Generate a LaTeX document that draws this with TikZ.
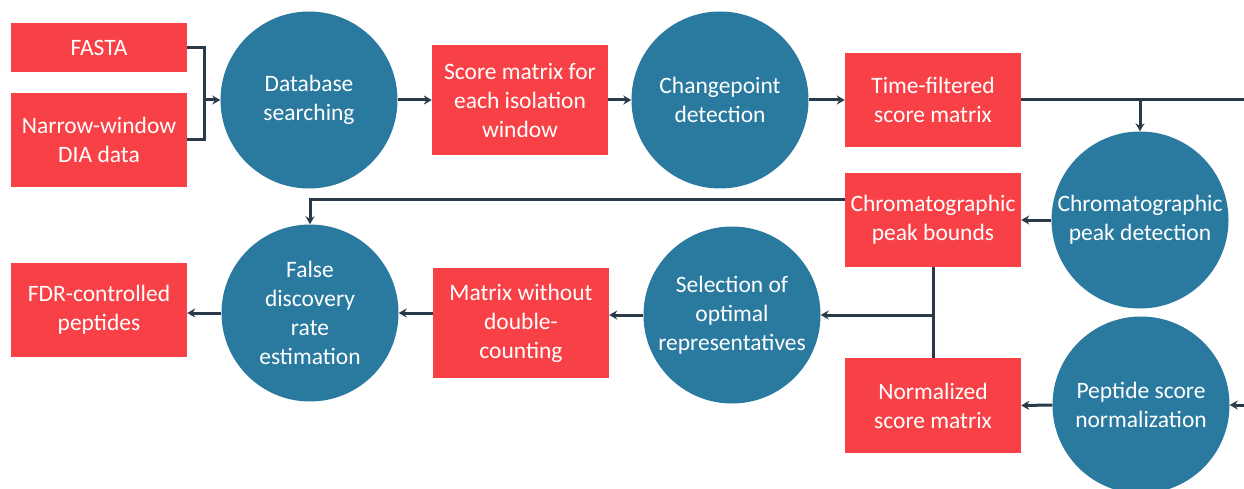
\documentclass[tikz,border=0pt]{standalone}
\usepackage{fontspec}
\setmainfont{Carlito}
\usetikzlibrary{arrows.meta}
\definecolor{boxred}{HTML}{F84146}
\definecolor{circblue}{HTML}{2A7AA0}
\definecolor{linec}{HTML}{2B3A4A}
\begin{document}
\begin{tikzpicture}[x=1pt,y=-1pt,
  txt/.style={text=white, align=center, font=\fontsize{23.5}{29}\selectfont, inner sep=0pt},
  box/.style={txt, fill=boxred, draw=none, minimum width=176pt},
  circ/.style={txt, circle, fill=circblue, draw=none, minimum size=177pt},
  conn/.style={draw=linec, line width=3pt},
  arr/.style={conn, -{Stealth[length=8pt,width=9pt]}}]
\useasboundingbox (0,0) rectangle (1244,489);
\clip (0,0) rectangle (1244,489);
% boxes
\node[box, minimum height=49pt] (fasta) at (99,47.5) {FASTA};
\node[box, minimum height=94pt] (narrow) at (99,140) {Narrow-window\\DIA data};
\node[box, minimum height=110pt] (score) at (520,100) {Score matrix for\\each isolation\\window};
\node[box, minimum height=94pt] (tf) at (933,100) {Time-filtered\\score matrix};
\node[box, minimum height=94pt] (pb) at (933,220) {Chromatographic\\peak bounds};
\node[box, minimum height=95pt] (nm) at (933,405.5) {Normalized\\score matrix};
\node[box, minimum height=110pt] (mx) at (521,323) {Matrix without\\double-\\counting};
\node[box, minimum height=94pt] (fc) at (99,310) {FDR-controlled\\peptides};
% circles
\node[circ] (db) at (309,100) {Database\\searching};
\node[circ] (cp) at (720,100) {Changepoint\\detection};
\node[circ] (pd) at (1140,220) {Chromatographic\\peak detection};
\node[circ] (pn) at (1141,405) {Peptide score\\normalization};
\node[circ] (sel) at (732,315) {Selection of\\optimal\\representatives};
\node[circ] (fdr) at (310,313) {False\\discovery\\rate\\estimation};
% connectors
\coordinate (j1) at (204,100);
\draw[conn] (fasta.east) -| (j1);
\draw[conn] (narrow.east) -| (j1);
\draw[arr] (j1) -- (db.west);
\draw[arr] (db) -- (score);
\draw[arr] (score) -- (cp);
\draw[arr] (cp) -- (tf);
\coordinate (redge) at (1250,100);
\draw[conn] (tf.east) -- (redge);
\draw[arr] (tf.east -| pd.north) -- (pd.north);
\draw[arr] (pd.west) -- (pb.east);
\draw[arr] ([yshift=20pt]pb.west) -| (fdr.north);
\draw[conn] (pb.south) -- (nm.north);
\coordinate (br) at (pb.south |- sel.east);
\draw[arr] (br) -- (sel.east);
\draw[arr] (pn.west) -- (nm.east);
\coordinate (rin) at (1250,405);
\draw[arr] (rin) -- (pn.east);
\draw[arr] (sel.west) -- (sel.west -| mx.east);
\draw[arr] (mx.west |- fdr.east) -- (fdr.east);
\draw[arr] (fdr.west) -- (fdr.west -| fc.east);
\end{tikzpicture}
\end{document}
